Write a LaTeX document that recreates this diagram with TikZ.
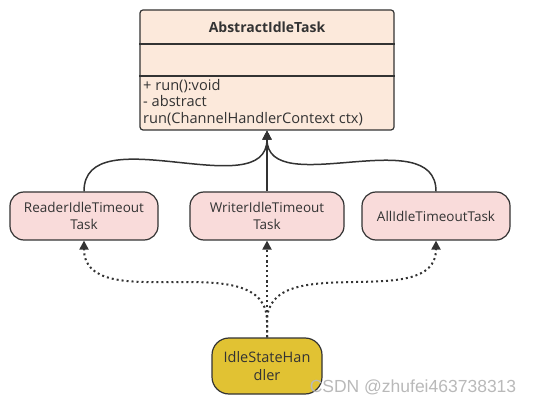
\documentclass[tikz,border=0pt]{standalone}
\usepackage{fontspec}
\setmainfont{Open Sans}
\newfontfamily\markfont{Liberation Sans}
\usepackage{tikz}
\usetikzlibrary{arrows.meta,calc}
\definecolor{Line}{HTML}{333333}
\definecolor{ClassBG}{HTML}{FCE9DB}
\definecolor{TaskBG}{HTML}{F9DBDA}
\definecolor{HandlerBG}{HTML}{E1C233}

\begin{document}
\begin{tikzpicture}[x=1pt,y=1pt]
  \tikzset{
    cbox/.style={rectangle, rounded corners=3pt,
      minimum width=254pt, minimum height=120pt,
      draw=Line, line width=1.2pt, fill=ClassBG},
    tnode/.style={rectangle, rounded corners=14pt,
      minimum width=148pt, minimum height=48pt, inner sep=2pt,
      align=center, font=\fontsize{13.5}{16.5}\selectfont,
      text=Line, draw=Line, line width=1.2pt, fill=TaskBG},
    uarrow/.style={-{Triangle[length=9pt,width=9pt]}, line width=1.5pt, Line},
    darrow/.style={-{Triangle[length=9pt,width=9pt]}, line width=2pt, Line,
      dash pattern=on 2pt off 3pt}
  }
  \useasboundingbox (0,0) rectangle (545,404);

  \node[cbox] (cls) at (267,334) {};
  \node[font=\fontsize{14}{16}\selectfont\bfseries, text=Line] (title) at (267,377) {AbstractIdleTask};
  \draw[Line, line width=1.2pt] (cls.west |- 0,360) -- (cls.east |- 0,360);
  \draw[Line, line width=1.2pt] (cls.west |- 0,328) -- (cls.east |- 0,328);
  \node[anchor=north west, align=left, inner sep=0pt,
    font=\fontsize{14.6}{16.5}\selectfont, text=Line] (ops) at (143,325)
    {+ run():void\\- abstract\\run(ChannelHandlerContext ctx)};

  \node[tnode] (reader) at (84,188) {ReaderIdleTimeout\\Task};
  \node[tnode, minimum width=154pt] (writer) at (267,188) {WriterIdleTimeout\\Task};
  \node[tnode] (alltask) at (436,188) {AllIdleTimeoutTask};
  \node[tnode, minimum width=110pt, minimum height=56pt, rounded corners=17pt,
    font=\fontsize{14.5}{18}\selectfont, fill=HandlerBG] (handler) at (267,38) {IdleStateHan\\dler};

  \foreach \a in {reader,writer,alltask}{
    \draw[uarrow] (\a.north) to[out=90,in=-90] (cls.south);
    \draw[darrow] (handler.north) -- ++(0,16) to[out=90,in=-90] (\a.south);
  }

  \node[font=\markfont\fontsize{17.5}{17.5}\selectfont, text=gray!55] (mark) at (413,17) {CSDN @zhufei463738313};
\end{tikzpicture}
\end{document}
